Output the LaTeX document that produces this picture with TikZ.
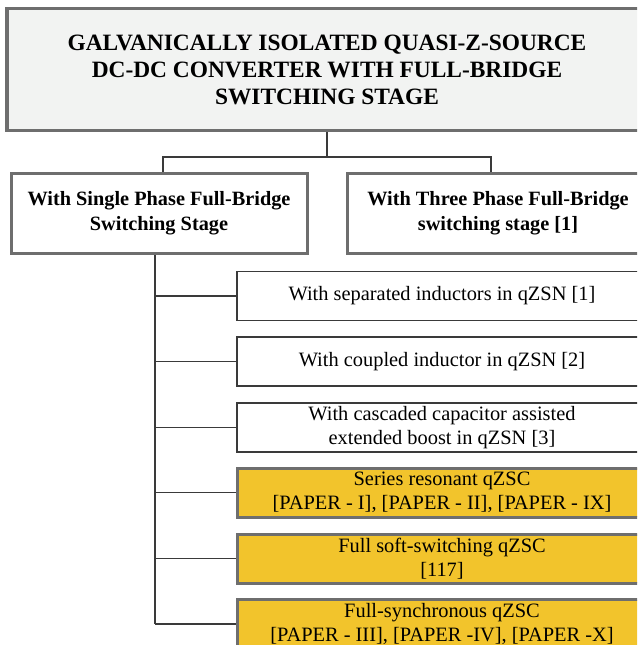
\documentclass[tikz,border=0pt]{standalone}
\usepackage{fontspec}
\setmainfont{Liberation Serif}
\usepackage{xcolor}
\usepackage{tikz}
\definecolor{frame}{HTML}{6E6E6E}
\definecolor{titlefill}{HTML}{F2F3F2}
\definecolor{leafline}{HTML}{3A3A3A}
\definecolor{paper}{HTML}{F2C42C}

\begin{document}
\begin{tikzpicture}[x=1pt,y=-1pt,
    heavy/.style={draw=frame,line width=3.5pt,align=center,inner sep=0pt},
    leaf/.style={draw=leafline,line width=1.3pt,fill=white,minimum width=410pt,
        minimum height=49pt,align=center,inner sep=0pt,font=\fontsize{20.4}{24.5}\selectfont},
    own/.style={leaf,draw=frame,line width=3pt,fill=paper},
    wire/.style={draw=leafline,line width=1.2pt}]
        \useasboundingbox (0,0) rectangle (637,645);
        \clip (0,0) rectangle (637,645);

        % top box
        \node[heavy,fill=titlefill,minimum width=640pt,minimum height=122pt,
            font=\fontsize{23.4}{27}\selectfont\bfseries] (title) at (327,69.5)
            {GALVANICALLY ISOLATED QUASI-Z-SOURCE\\DC-DC CONVERTER WITH FULL-BRIDGE\\SWITCHING STAGE};

        % second level
        \node[heavy,line width=3pt,fill=white,minimum width=296pt,minimum height=80pt,
            font=\fontsize{20.3}{25}\selectfont\bfseries] (single) at (159,213.5)
            {With Single Phase Full-Bridge\\Switching Stage};
        \node[heavy,line width=3pt,fill=white,minimum width=302pt,minimum height=80pt,
            font=\fontsize{20.3}{25}\selectfont\bfseries] (three) at (498,213.5)
            {With Three Phase Full-Bridge\\switching stage [1]};

        \coordinate (fork) at (327,157);
        \draw[wire] (title.south) -- (fork);
        \draw[wire] ([xshift=4pt]single.north) |- (fork) -| ([xshift=-7pt]three.north);

        % variants
        \node[leaf] (sep) at (442,296) {With separated inductors in qZSN [1]};
        \node[leaf] (cpl) at (442,361.5) {With coupled inductor in qZSN [2]};
        \node[leaf] (cas) at (442,427.5) {With cascaded capacitor assisted\\extended boost in qZSN [3]};
        \node[own] (res) at (442,492.5) {Series resonant qZSC\\{}[PAPER - I], [PAPER - II], [PAPER - IX]};
        \node[own] (soft) at (442,558.5) {Full soft-switching qZSC\\{}[117]};
        \node[own] (sync) at (442,624) {Full-synchronous qZSC\\{}[PAPER - III], [PAPER -IV], [PAPER -X]};

        \coordinate (trunk) at ([xshift=-4pt]single.south);
        \draw[wire] (trunk) -- (trunk |- sync.west);
        \foreach \n in {sep,cpl,cas,res,soft,sync}{
                \draw[wire] (trunk |- \n.west) -- (\n.west);
            }
    \end{tikzpicture}
\end{document}
